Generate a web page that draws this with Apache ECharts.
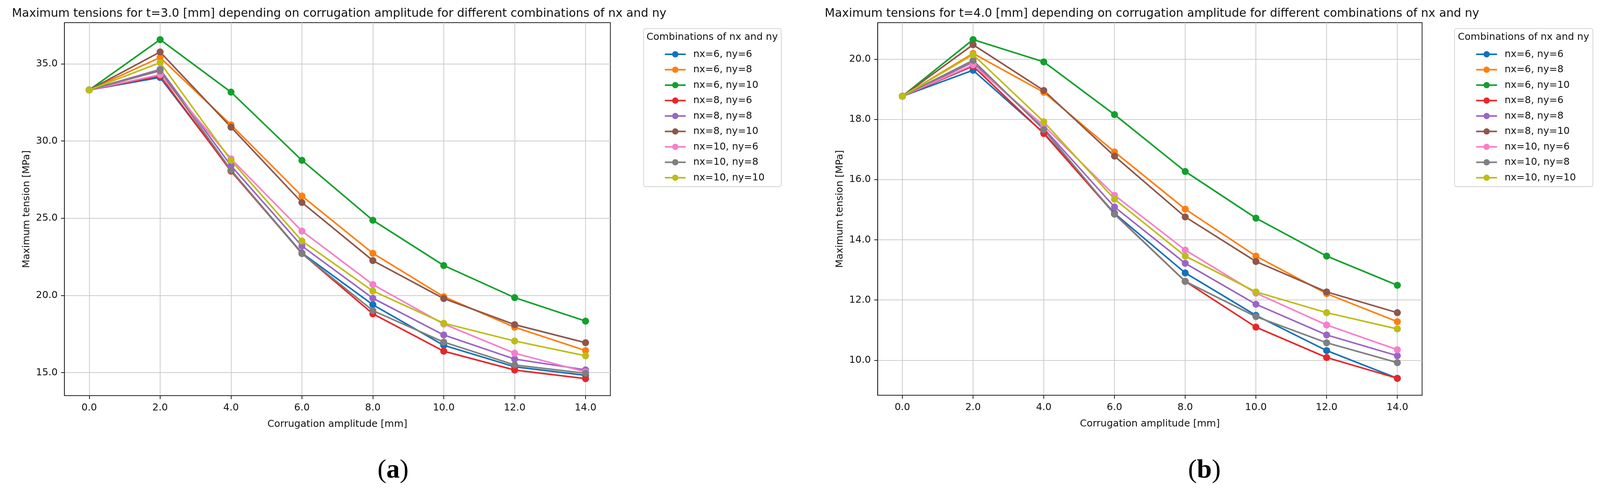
<!DOCTYPE html>
<html>
<head>
<meta charset="utf-8">
<script src="https://cdn.jsdelivr.net/npm/echarts@6/dist/echarts.min.js"></script>
<style>
  html, body { margin: 0; padding: 0; background: #fff; overflow: hidden; }
  #chart { width: 100vw; height: 100vh; }
</style>
</head>
<body>
<div id="chart"></div>
<script>
// ---------------- DATA ----------------
const amplitudes = [0, 2, 4, 6, 8, 10, 12, 14];
const xTickValues = [0, 2, 4, 6, 8, 10, 12, 14];
const yTickValuesA = [15, 20, 25, 30, 35];
const yTickValuesB = [10, 12, 14, 16, 18, 20];

const seriesNames = [
  'nx=6, ny=6', 'nx=6, ny=8', 'nx=6, ny=10',
  'nx=8, ny=6', 'nx=8, ny=8', 'nx=8, ny=10',
  'nx=10, ny=6', 'nx=10, ny=8', 'nx=10, ny=10'
];

// t = 3.0 mm
const t3_nx6_ny6   = [33.31, 34.12, 28.10, 22.75, 19.40, 16.77, 15.38, 14.83];
const t3_nx6_ny8   = [33.31, 35.41, 31.05, 26.44, 22.73, 19.92, 17.94, 16.43];
const t3_nx6_ny10  = [33.31, 36.57, 33.17, 28.75, 24.87, 21.94, 19.86, 18.34];
const t3_nx8_ny6   = [33.31, 34.22, 28.05, 22.72, 18.81, 16.39, 15.17, 14.61];
const t3_nx8_ny8   = [33.31, 34.64, 28.40, 23.20, 19.82, 17.44, 15.88, 15.18];
const t3_nx8_ny10  = [33.31, 35.77, 30.90, 26.02, 22.26, 19.80, 18.11, 16.94];
const t3_nx10_ny6  = [33.31, 34.30, 28.85, 24.17, 20.71, 18.15, 16.26, 15.05];
const t3_nx10_ny8  = [33.31, 34.55, 28.12, 22.71, 19.02, 16.98, 15.50, 14.96];
const t3_nx10_ny10 = [33.31, 35.08, 28.75, 23.53, 20.29, 18.20, 17.05, 16.09];

// t = 4.0 mm
const t4_nx6_ny6   = [18.77, 19.63, 17.55, 14.88, 12.90, 11.49, 10.32, 9.40];
const t4_nx6_ny8   = [18.77, 20.19, 18.90, 16.92, 15.02, 13.46, 12.21, 11.28];
const t4_nx6_ny10  = [18.77, 20.65, 19.91, 18.16, 16.27, 14.72, 13.46, 12.49];
const t4_nx8_ny6   = [18.77, 19.77, 17.53, 14.86, 12.62, 11.10, 10.09, 9.40];
const t4_nx8_ny8   = [18.77, 19.90, 17.70, 15.09, 13.22, 11.86, 10.84, 10.15];
const t4_nx8_ny10  = [18.77, 20.48, 18.96, 16.78, 14.76, 13.28, 12.27, 11.58];
const t4_nx10_ny6  = [18.77, 19.81, 17.79, 15.48, 13.66, 12.23, 11.17, 10.35];
const t4_nx10_ny8  = [18.77, 19.96, 17.66, 14.85, 12.62, 11.45, 10.58, 9.92];
const t4_nx10_ny10 = [18.77, 20.15, 17.92, 15.35, 13.46, 12.27, 11.58, 11.04];

const t3Values = [t3_nx6_ny6, t3_nx6_ny8, t3_nx6_ny10, t3_nx8_ny6, t3_nx8_ny8, t3_nx8_ny10, t3_nx10_ny6, t3_nx10_ny8, t3_nx10_ny10];
const t4Values = [t4_nx6_ny6, t4_nx6_ny8, t4_nx6_ny10, t4_nx8_ny6, t4_nx8_ny8, t4_nx8_ny10, t4_nx10_ny6, t4_nx10_ny8, t4_nx10_ny10];

const titleA = 'Maximum tensions for t=3.0 [mm] depending on corrugation amplitude for different combinations of nx and ny';
const titleB = 'Maximum tensions for t=4.0 [mm] depending on corrugation amplitude for different combinations of nx and ny';
const xAxisTitle = 'Corrugation amplitude [mm]';
const yAxisTitle = 'Maximum tension [MPa]';
const legendTitle = 'Combinations of nx and ny';

// ---------------- LAYOUT (designed for 4299x1270, scaled to the viewport) ----------------
const el = document.getElementById('chart');
const W = el.clientWidth || window.innerWidth;
const H = el.clientHeight || window.innerHeight;
const sx = W / 4299;
const sy = H / 1270;
const X = v => v * sx;
const Y = v => v * sy;
const F = v => Math.round(v * Math.min(sx, sy) * 10) / 10;

const colors = ['#1273b8', '#ff7f0e', '#12a02c', '#e8262a', '#9a66c4', '#8f564b', '#f57fcb', '#7f7f7f', '#bcbd16'];
const FONT = 'DejaVu Sans';
const TICK_FS = F(26.2);
const TITLE_FS = F(31.5);
const margin5 = {
  min: v => v.min - 0.05 * (v.max - v.min),
  max: v => v.max + 0.05 * (v.max - v.min)
};

function makeXAxis(gridIndex) {
  return {
    type: 'value', gridIndex,
    min: margin5.min, max: margin5.max,
    name: xAxisTitle, nameLocation: 'middle', nameGap: Y(61),
    nameTextStyle: { fontFamily: FONT, fontSize: TICK_FS, color: '#111' },
    axisLine: { show: true, onZero: false, lineStyle: { color: '#222', width: 2 } },
    axisTick: { show: true, inside: false, length: Y(9), customValues: xTickValues, lineStyle: { color: '#222', width: 2 } },
    axisLabel: { customValues: xTickValues, margin: Y(19), fontFamily: FONT, fontSize: TICK_FS, color: '#111', formatter: v => v.toFixed(1) },
    splitLine: { show: true, lineStyle: { color: '#cccccc', width: 2 } }
  };
}
function makeYAxis(gridIndex, ticks) {
  return {
    type: 'value', gridIndex,
    min: margin5.min, max: margin5.max,
    name: yAxisTitle, nameLocation: 'middle', nameGap: X(88),
    nameTextStyle: { fontFamily: FONT, fontSize: TICK_FS, color: '#111' },
    axisLine: { show: true, onZero: false, lineStyle: { color: '#222', width: 2 } },
    axisTick: { show: true, inside: false, length: X(9), customValues: ticks, lineStyle: { color: '#222', width: 2 } },
    axisLabel: { customValues: ticks, margin: X(18), fontFamily: FONT, fontSize: TICK_FS, color: '#111', formatter: v => v.toFixed(1) },
    splitLine: { show: true, lineStyle: { color: '#cccccc', width: 2 } }
  };
}

function buildSeries(valuesList, axisIndex) {
  return valuesList.map((vals, i) => ({
    name: seriesNames[i],
    type: 'line',
    xAxisIndex: axisIndex,
    yAxisIndex: axisIndex,
    data: amplitudes.map((x, k) => [x, vals[k]]),
    symbol: 'circle',
    symbolSize: 18,
    showAllSymbol: true,
    color: colors[i],
    lineStyle: { width: 4, color: colors[i] },
    itemStyle: { color: colors[i] },
    emphasis: { disabled: true },
    animation: false
  }));
}

function makeLegend(left) {
  const textH = TICK_FS;
  return {
    orient: 'vertical',
    left: X(left), top: Y(134) - textH / 2,
    itemWidth: X(56), itemHeight: 20, itemGap: Y(39.5) - textH,
    data: seriesNames,
    selectedMode: false,
    lineStyle: { width: 4 },
    textStyle: { fontFamily: FONT, fontSize: TICK_FS, color: '#111', padding: [0, 0, 0, X(15)] }
  };
}

function labelText(x, letter) {
  return { type: 'text', x: X(x), y: Y(1205), silent: true,
    style: { text: '{p|(}{b|' + letter + '}{p|)}', align: 'center', verticalAlign: 'middle',
      rich: { p: { fontFamily: 'Liberation Serif', fontSize: F(72), fill: '#000' },
              b: { fontFamily: 'Liberation Serif', fontSize: F(72), fontWeight: 'bold', fill: '#000' } } } };
}

const chart = echarts.init(el, null, { renderer: 'canvas' });
chart.setOption({
  backgroundColor: '#ffffff',
  animation: false,
  title: [
    { text: titleA, left: X(906), top: Y(15), textAlign: 'center',
      textStyle: { fontFamily: FONT, fontSize: TITLE_FS, fontWeight: 'normal', color: '#111' } },
    { text: titleB, left: X(3090), top: Y(15), textAlign: 'center',
      textStyle: { fontFamily: FONT, fontSize: TITLE_FS, fontWeight: 'normal', color: '#111' } }
  ],
  grid: [
    { left: X(173), top: Y(58), width: X(1467), height: Y(955), show: true, borderColor: '#222', borderWidth: 2, containLabel: false },
    { left: X(2358), top: Y(58), width: X(1463), height: Y(954), show: true, borderColor: '#222', borderWidth: 2, containLabel: false }
  ],
  xAxis: [makeXAxis(0), makeXAxis(1)],
  yAxis: [makeYAxis(0, yTickValuesA), makeYAxis(1, yTickValuesB)],
  legend: [makeLegend(1779), makeLegend(3959)],
  graphic: [
    { type: 'rect', left: X(1728), top: Y(72), z: -1, silent: true,
      shape: { width: X(370), height: Y(405), r: 6 },
      style: { fill: '#ffffff', stroke: '#d4d4d4', lineWidth: 2 } },
    { type: 'rect', left: X(3907), top: Y(72), z: -1, silent: true,
      shape: { width: X(372), height: Y(405), r: 6 },
      style: { fill: '#ffffff', stroke: '#d4d4d4', lineWidth: 2 } },
    { type: 'text', x: X(1737), y: Y(95), silent: true,
      style: { text: legendTitle, fontFamily: FONT, fontSize: TICK_FS, fill: '#111', align: 'left', verticalAlign: 'middle' } },
    { type: 'text', x: X(3917), y: Y(95), silent: true,
      style: { text: legendTitle, fontFamily: FONT, fontSize: TICK_FS, fill: '#111', align: 'left', verticalAlign: 'middle' } },
    labelText(1056, 'a'),
    labelText(3236, 'b')
  ],
  series: buildSeries(t3Values, 0).concat(buildSeries(t4Values, 1))
});
</script>
</body>
</html>
